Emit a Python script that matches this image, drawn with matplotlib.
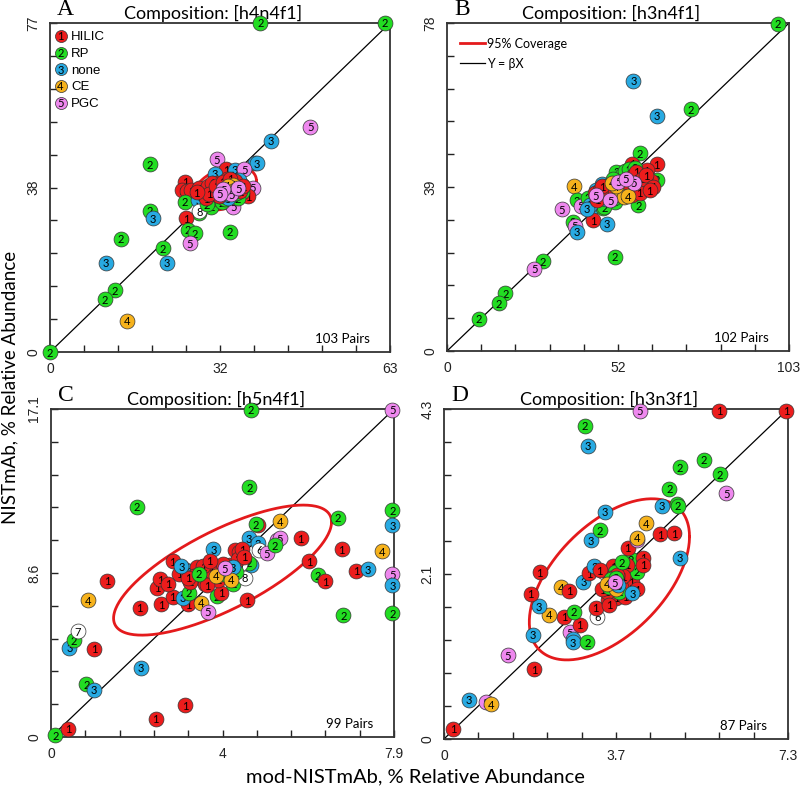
import numpy as np
import matplotlib.pyplot as plt

plt.rcParams['font.family'] = ['Liberation Sans', 'DejaVu Sans']

# =========================================================
# GROUP COLOURS / LEGEND
# =========================================================

group_colors = {1: '#ec1c1c', 2: '#22dd22', 3: '#28aae2', 4: '#f6b21c',
                5: '#ee88ee', 6: '#ffffff', 7: '#ffffff', 8: '#ffffff'}
legend_labels = ['HILIC', 'RP', 'none', 'CE', 'PGC']

# =========================================================
# PANEL A : [h4n4f1]
# =========================================================

a_x = [0, 39, 62, 48.2, 40.9, 38.0, 38.3, 18.5, 30.9, 32.7,
       30.6, 34.3, 36.0, 25.0, 24.4, 25.3, 26.2, 27.7, 29.9, 35.5,
       37.6, 36.7, 25.0, 27.5, 30.9, 29.9, 34.0, 27.7, 27.7, 25.2,
       18.5, 19.0, 25.5, 26.9, 33.3, 25.9, 13.1, 20.9, 10.4, 21.7,
       12.0, 10.2, 14.2,
       33.0, 33.7, 32.4,
       31.2, 32.0, 33.2, 34.0, 35.6, 30.4, 32.5, 33.6, 29.6, 31.8, 34.8, 32.4, 30.0, 31.6, 33.1, 34.5, 35.2, 29.0,
       32.3, 33.5, 34.4, 31.0, 33.0, 35.0, 32.6, 31.8, 34.0,
       28.5, 29.2, 30.5, 31.0, 31.6, 32.2, 33.0, 33.8, 34.6, 35.2, 30.0, 32.8, 34.2, 31.4, 28.9, 29.5, 30.8, 32.0, 33.4, 35.8, 27.2,
       33.2, 33.9, 32.9, 34.3, 33.5,
       33.6, 34.9, 32.1, 31.5]
a_y = [0, 77, 77, 52.7, 49.4, 44.2, 44.2, 44.0, 45.1, 42.8,
       41.7, 42.6, 42.8, 39.9, 37.9, 37.6, 37.9, 38.3, 38.3, 39.1,
       38.5, 36.4, 35.2, 35.5, 35.5, 34.0, 34.0, 32.5, 33.0, 31.3,
       33.1, 31.3, 28.6, 27.8, 28.2, 25.4, 26.5, 24.3, 20.9, 20.9,
       14.5, 12.4, 7.3,
       37.6, 38.6, 37.8,
       36.2, 36.8, 37.2, 36.7, 37.4, 36.8, 38.6, 39.6, 35.6, 35.0, 36.0, 35.8, 37.6, 37.4, 36.4, 37.2, 39.0, 34.6,
       39.4, 38.0, 39.5, 38.0, 36.0, 40.2, 37.0, 39.0, 37.4,
       37.2, 38.8, 37.8, 39.5, 38.2, 37.5, 39.0, 38.4, 38.8, 37.6, 39.6, 40.4, 40.0, 36.6, 36.0, 37.0, 38.9, 39.8, 40.6, 38.8, 37.4,
       38.2, 39.1, 38.9, 37.8, 37.4,
       36.9, 38.3, 38.1, 37.0]
a_g = ([2, 2, 2, 5, 3, 3, 3, 2, 5, 1,
        3, 3, 5, 1, 1, 1, 1, 1, 1, 1,
        5, 1, 2, 3, 2, 2, 5, 2, 8, 1,
        2, 3, 2, 2, 2, 5, 2, 2, 3, 3,
        2, 2, 4]
       + [6, 7, 8] + [2] * 18 + [3] * 9 + [1] * 21 + [4] * 5 + [5] * 4)

# =========================================================
# PANEL B : [h3n4f1]
# =========================================================

b_x = [99.7, 56.1, 63.1, 73.4, 58.1, 55.8, 63.1, 60.1, 63.1, 52.1,
       46.6, 38.3, 39.1, 40.3, 34.6, 43.9, 47.1, 50.6, 57.6, 44.1,
       48.1, 37.9, 38.5, 39.1, 50.6, 28.8, 26.3, 17.6, 15.7, 9.5,
       50.2, 52.6, 54.2, 51.4,
       51.0, 52.8, 53.6, 50.0, 48.2, 46.2, 44.0, 42.5, 49.5, 51.5, 53.5, 54.8, 55.5, 48.0, 52.0, 45.6, 56.6, 50.4, 47.4,
       43.0, 45.0, 47.0, 49.0, 51.0, 53.0, 57.0, 58.0, 42.2, 47.8, 55.0, 46.0, 48.6,
       44.5, 46.0, 47.5, 45.2, 49.0, 55.0, 56.5, 57.5, 58.5, 59.5, 60.5, 61.5, 56.0, 57.0, 58.8, 54.0, 53.0, 60.0, 62.0, 55.6,
       50.5, 52.4, 54.6, 58.0, 61.0, 46.8,
       52.0, 53.2, 50.8, 49.8, 54.4,
       51.6, 56.2, 44.8, 49.2, 53.8]
b_y = [77.8, 64.3, 55.9, 57.5, 47.0, 44.5, 44.4, 43.0, 40.7, 42.3,
       39.7, 39.2, 35.9, 34.5, 33.7, 34.3, 34.0, 35.5, 34.6, 31.1,
       30.2, 30.7, 29.8, 28.4, 22.4, 21.4, 19.6, 13.7, 11.4, 7.7,
       38.2, 38.0, 39.4, 38.8,
       42.6, 41.8, 42.8, 40.8, 35.6, 35.4, 35.8, 36.5, 36.6, 37.4, 39.0, 43.2, 40.4, 39.2, 38.6, 36.8, 43.6, 36.4, 34.2,
       34.8, 38.4, 37.4, 38.8, 39.6, 40.4, 40.6, 41.2, 33.8, 36.2, 39.0, 37.0, 37.6,
       37.5, 38.2, 36.8, 36.0, 37.8, 38.5, 39.8, 38.4, 39.2, 38.6, 39.8, 40.4, 41.5, 42.6, 41.0, 40.2, 37.6, 41.8, 39.0, 37.2,
       38.4, 39.6, 38.0, 37.6, 38.2, 39.2,
       37.0, 36.6, 39.2, 40.0, 36.8,
       40.2, 40.0, 37.0, 35.8, 41.0]
b_g = ([2, 3, 3, 2, 2, 1, 1, 1, 2, 2,
        3, 4, 2, 5, 5, 3, 2, 2, 2, 1,
        3, 2, 5, 3, 2, 2, 5, 2, 2, 2]
       + [6, 7, 8, 8] + [2] * 19 + [3] * 13 + [1] * 26 + [4] * 5 + [5] * 5)

# =========================================================
# PANEL C : [h5n4f1]
# =========================================================

c_x = [0.10, 0.39, 2.41, 3.09, 0.81, 0.98, 2.07, 0.42, 0.52, 0.61,
       1.00, 0.85, 1.30, 2.04, 2.54, 2.44, 2.51, 2.80, 2.80, 3.07,
       3.19, 3.16, 3.03, 3.17, 3.36, 3.44, 3.46, 3.61, 3.74, 3.82,
       3.91, 3.74, 3.62, 3.89, 4.12, 4.24, 4.32, 4.20, 4.12, 4.51,
       4.47, 4.56, 4.60, 4.55, 4.60, 4.57, 1.98, 4.77, 4.71, 4.77,
       4.80, 4.97, 5.27, 5.20, 5.27, 5.15, 5.75, 5.95, 6.60, 6.15,
       6.31, 6.69, 7.02, 7.30, 6.73, 7.63, 7.86, 7.86, 7.86, 7.86,
       7.86, 7.86,
       3.75, 3.45, 4.35,
       3.30, 3.55, 3.70, 3.95, 4.05, 4.30, 3.50, 3.85, 3.20, 4.40, 2.95, 3.60, 3.15, 3.65, 4.45, 2.70,
       3.95, 4.25, 3.40,
       4.18, 3.00,
       3.80, 4.15,
       4.00]
c_y = [0.09, 0.43, 0.96, 1.65, 2.75, 2.47, 3.60, 4.64, 5.04, 5.51,
       4.61, 7.13, 8.14, 6.73, 6.91, 7.79, 8.23, 9.17, 7.31, 8.75,
       8.64, 6.91, 7.25, 7.51, 8.87, 8.30, 7.01, 6.52, 9.79, 7.34,
       7.51, 8.87, 8.35, 8.70, 8.97, 9.74, 9.65, 8.00, 8.35, 7.13,
       8.31, 10.35, 8.96, 9.08, 17.05, 13.01, 12.00, 11.05, 11.08, 10.09,
       9.75, 9.57, 11.25, 10.26, 10.35, 10.00, 10.35, 9.17, 11.43, 8.44,
       8.12, 9.78, 8.66, 8.75, 6.35, 9.69, 11.83, 11.05, 8.49, 7.91,
       6.44, 17.05,
       8.50, 8.60, 9.00,
       8.40, 8.00, 8.60, 9.00, 8.70, 9.30, 8.90, 8.20, 8.10, 9.80, 8.50, 7.90, 8.30, 9.20, 9.40, 8.00,
       8.50, 8.60, 8.50,
       8.85, 8.90,
       8.40, 8.20,
       8.80]
c_g = ([2, 1, 1, 1, 2, 3, 3, 3, 2, 7,
        1, 4, 1, 1, 1, 1, 1, 1, 1, 1,
        3, 1, 3, 2, 1, 1, 4, 5, 3, 2,
        1, 1, 1, 1, 1, 1, 1, 2, 4, 1,
        8, 3, 3, 2, 2, 2, 2, 1, 2, 3,
        6, 5, 4, 5, 5, 2, 1, 1, 2, 2,
        1, 1, 1, 3, 2, 4, 2, 3, 5, 3,
        2, 5]
       + [6, 7, 8] + [1] * 16 + [2] * 3 + [3] * 2 + [4] * 2 + [5])

# =========================================================
# PANEL D : [h3n3f1]
# =========================================================

d_x = [0.19, 0.53, 0.89, 0.99, 1.91, 1.36, 1.89, 2.67, 2.73, 2.73,
       3.04, 2.88, 2.55, 2.23, 2.76, 2.01, 1.84, 2.48, 2.65, 2.03,
       2.96, 3.08, 3.19, 3.40, 3.25, 3.22, 3.47, 3.59, 3.63, 3.73,
       3.98, 4.10, 4.09, 3.96, 4.23, 4.22, 3.90, 3.88, 4.09, 4.09,
       4.28, 4.59, 4.88, 5.00, 3.11, 3.31, 3.42, 4.62, 4.94, 4.78,
       5.00, 5.52, 5.85, 5.99, 2.99, 3.05, 4.16, 5.84, 7.26, 4.96,
       3.58, 3.68,
       3.55, 3.62, 3.70, 3.58, 3.66, 3.75, 3.52, 3.80, 3.68, 3.45, 3.85, 3.35, 3.30, 3.50,
       3.55, 3.64, 3.72, 3.50, 3.78,
       3.60, 3.66, 3.45,
       3.70, 4.00,
       3.62]
d_y = [0.13, 0.51, 0.48, 0.45, 0.91, 1.09, 1.36, 1.39, 1.30, 1.26,
       1.26, 1.49, 1.59, 1.62, 1.66, 1.73, 1.89, 1.98, 1.93, 2.17,
       2.05, 2.16, 2.25, 2.17, 1.59, 1.71, 1.81, 2.25, 2.17, 1.88,
       2.05, 1.95, 2.18, 2.34, 2.36, 2.27, 2.49, 2.27, 2.59, 2.62,
       2.81, 2.67, 2.68, 2.36, 2.59, 2.72, 2.96, 3.04, 3.06, 3.26,
       3.54, 3.64, 3.45, 3.20, 4.08, 3.82, 4.28, 4.28, 4.28, 3.04,
       1.96, 2.02,
       2.02, 1.95, 2.05, 1.88, 1.84, 1.98, 2.10, 2.12, 2.14, 1.92, 1.85, 1.95, 2.20, 1.75,
       2.08, 2.10, 1.92, 1.98, 2.30,
       2.00, 1.96, 2.02,
       2.00, 1.90,
       2.04]
d_g = ([1, 3, 5, 4, 1, 5, 3, 5, 3, 3,
        2, 1, 1, 4, 2, 3, 1, 4, 1, 1,
        3, 1, 3, 8, 6, 1, 1, 1, 2, 1,
        1, 1, 2, 2, 1, 1, 1, 1, 5, 4,
        4, 1, 1, 3, 3, 2, 3, 3, 2, 2,
        2, 2, 2, 5, 2, 3, 5, 1, 1, 2]
       + [7, 8] + [1] * 14 + [2] * 5 + [4] * 3 + [3] * 2 + [5])

# =========================================================
# PANEL SETTINGS
# =========================================================

panels = [
    dict(x=a_x, y=a_y, g=a_g, xmax=63, ymax=77, xl=['0', '32', '63'], yl=['0', '38', '77'],
         ell=(32.4, 38.3, 5.85, 5.1, 0.35), title='Composition: [h4n4f1]', letter='A', pairs='103 Pairs',
         pos=[0.0625, 0.5544, 0.425, 0.4165]),
    dict(x=b_x, y=b_y, g=b_g, xmax=103, ymax=78, xl=['0', '52', '103'], yl=['0', '39', '78'],
         ell=(51.5, 39.0, 10.0, 4.2, 0.85), title='Composition: [h3n4f1]', letter='B', pairs='102 Pairs',
         pos=[0.5588, 0.5557, 0.4275, 0.4152]),
    dict(x=c_x, y=c_y, g=c_g, xmax=7.9, ymax=17.1, xl=['0', '4', '7.9'], yl=['0', '8.6', '17.1'],
         ell=(3.95, 8.70, 2.51, 3.39, 0.74), title='Composition: [h5n4f1]', letter='C', pairs='99 Pairs',
         pos=[0.0638, 0.0671, 0.4288, 0.4152]),
    dict(x=d_x, y=d_y, g=d_g, xmax=7.3, ymax=4.3, xl=['0', '3.7', '7.3'], yl=['0', '2.1', '4.3'],
         ell=(3.51, 2.08, 1.70, 1.05, 0.53), title='Composition: [h3n3f1]', letter='D', pairs='87 Pairs',
         pos=[0.555, 0.0646, 0.43, 0.4177]),
]

fig = plt.figure(figsize=(8, 7.9), dpi=100)

for p in panels:

    ax = fig.add_axes(p['pos'])
    ax.set_xlim(0, p['xmax'])
    ax.set_ylim(0, p['ymax'])

    # Y = beta X
    ax.plot([0, p['xmax']], [0, p['ymax']], color='black', linewidth=0.9, zorder=1)

    # 95% coverage ellipse
    cx, cy, sx, sy, rho = p['ell']
    t = np.linspace(0, 2 * np.pi, 300)
    ax.plot(cx + sx * np.cos(t),
            cy + sy * (rho * np.cos(t) + np.sqrt(1 - rho ** 2) * np.sin(t)),
            color='#e41a1c', linewidth=2, zorder=2)

    z = 3
    for xv, yv, gv in zip(p['x'], p['y'], p['g']):
        ax.scatter([xv], [yv], s=115, color=group_colors[gv], edgecolors='#333333',
                   linewidths=0.5, zorder=z, clip_on=False)
        ax.text(xv, yv, str(gv), ha='center', va='center_baseline', fontsize=8,
                family='Lato', zorder=z + 0.5, clip_on=False)
        z += 1

    xt = np.linspace(0, p['xmax'], 11)
    yt = np.linspace(0, p['ymax'], 11)
    ax.set_xticks(xt)
    ax.set_yticks(yt)
    ax.set_xticklabels([p['xl'][0]] + [''] * 4 + [p['xl'][1]] + [''] * 4 + [p['xl'][2]])
    ax.set_yticklabels([p['yl'][0]] + [''] * 4 + [p['yl'][1]] + [''] * 4 + [p['yl'][2]],
                       rotation=90, va='center')
    ax.tick_params(direction='in', length=5, width=1, pad=7, labelsize=10, colors='#222222')
    for s in ax.spines.values():
        s.set_linewidth(1.3)
        s.set_color('#333333')

    ax.set_title(p['title'], fontsize=13, family='Lato', pad=3, x=0.48)
    ax.text(0.02, 1.01, p['letter'], transform=ax.transAxes, fontsize=17,
            family='Liberation Serif', ha='left', va='bottom')
    ax.text(0.94, 0.028, p['pairs'], transform=ax.transAxes, fontsize=9.5,
            family='Lato', ha='right', va='baseline')

    if p['letter'] == 'A':
        for i, lab in enumerate(legend_labels):
            yy = 0.961 - 0.0508 * i
            ax.scatter([0.031], [yy], s=75, color=group_colors[i + 1], edgecolors='#333333',
                       linewidths=0.5, transform=ax.transAxes, zorder=500)
            ax.text(0.031, yy, str(i + 1), transform=ax.transAxes, ha='center',
                    va='center_baseline', fontsize=8, family='Lato', zorder=501)
            ax.text(0.062, yy, lab, transform=ax.transAxes, ha='left',
                    va='center_baseline', fontsize=9.5, zorder=501)

    if p['letter'] == 'B':
        ax.plot([0.038, 0.111], [0.94, 0.94], color='#e41a1c', linewidth=2, transform=ax.transAxes)
        ax.plot([0.038, 0.111], [0.877, 0.877], color='black', linewidth=0.9, transform=ax.transAxes)
        ax.text(0.118, 0.94, '95% Coverage', transform=ax.transAxes, fontsize=9,
                family='Lato', va='center_baseline')
        ax.text(0.118, 0.877, 'Y = βX', transform=ax.transAxes, fontsize=9,
                family='Lato', va='center_baseline')

fig.text(0.012, 0.509, 'NISTmAb, % Relative Abundance', rotation=90, ha='center',
         va='center', fontsize=13.5, family='Lato')
fig.text(0.519, 0.016, 'mod-NISTmAb, % Relative Abundance', ha='center',
         va='center', fontsize=14.5, family='Lato')

fig.savefig('out.png', dpi=100)
